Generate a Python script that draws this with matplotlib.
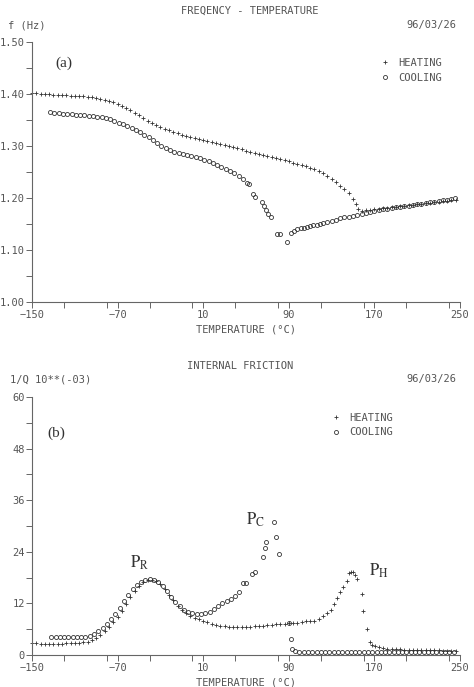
import matplotlib
matplotlib.use("Agg")
import matplotlib.pyplot as plt
from matplotlib.ticker import MultipleLocator, FormatStrFormatter

# ---- (a) frequency vs temperature ----
heat_T_a = [-150, -146, -142, -138, -134, -130, -126, -122, -118, -114, -110, -106, -102, -98, -94,
            -90, -86, -82, -78, -74, -70, -66, -62, -58, -54, -50, -46, -42, -38, -34, -30, -26,
            -22, -18, -14, -10, -6, -2, 2, 6, 10, 14, 18, 22, 26, 30, 34, 38, 42, 46, 50, 54, 58,
            62, 66, 70, 74, 78, 82, 86, 90, 94, 98, 102, 106, 110, 114, 118, 122, 126, 130, 134,
            138, 142, 146, 150, 153, 155, 158, 162, 166, 170, 174, 178, 182, 186, 190, 194, 198,
            202, 206, 210, 214, 218, 222, 226, 230, 234, 238, 242, 246]
heat_f_a = [1.401, 1.401, 1.400, 1.400, 1.400, 1.399, 1.399, 1.398, 1.398, 1.397, 1.397, 1.396,
            1.396, 1.395, 1.394, 1.393, 1.391, 1.389, 1.387, 1.384, 1.381, 1.377, 1.373, 1.369,
            1.364, 1.359, 1.354, 1.349, 1.344, 1.340, 1.336, 1.333, 1.330, 1.327, 1.325, 1.322,
            1.320, 1.318, 1.316, 1.314, 1.312, 1.310, 1.308, 1.306, 1.304, 1.302, 1.300, 1.298,
            1.296, 1.294, 1.291, 1.289, 1.287, 1.285, 1.283, 1.281, 1.279, 1.277, 1.275, 1.273,
            1.271, 1.268, 1.266, 1.263, 1.261, 1.258, 1.255, 1.252, 1.248, 1.243, 1.237, 1.231,
            1.224, 1.217, 1.209, 1.199, 1.188, 1.178, 1.175, 1.176, 1.177, 1.178, 1.179, 1.180,
            1.181, 1.182, 1.183, 1.184, 1.185, 1.186, 1.187, 1.188, 1.189, 1.190, 1.191, 1.192,
            1.193, 1.194, 1.195, 1.196, 1.197]

cool_T_a = [-133, -129, -125, -121, -117, -113, -109, -105, -101, -97, -93, -89, -85, -81, -77,
            -73, -69, -65, -61, -57, -53, -49, -45, -41, -37, -33, -29, -25, -21, -17, -13, -9,
            -5, -1, 3, 7, 11, 15, 19, 23, 27, 31, 35, 39, 43, 47, 51, 53, 57, 58, 65, 67, 69, 71,
            73, 79, 82, 88, 92, 95, 98, 101, 104, 107, 110, 113, 116, 119, 122, 126, 130, 134,
            138, 142, 146, 150, 154, 158, 162, 166, 170, 174, 178, 182, 186, 190, 194, 198, 202,
            206, 210, 214, 218, 222, 226, 230, 234, 238, 242, 245]
cool_f_a = [1.365, 1.364, 1.363, 1.362, 1.361, 1.361, 1.360, 1.359, 1.359, 1.358, 1.357, 1.356,
            1.355, 1.353, 1.351, 1.348, 1.345, 1.342, 1.338, 1.334, 1.330, 1.326, 1.322, 1.317,
            1.312, 1.306, 1.300, 1.296, 1.292, 1.288, 1.286, 1.284, 1.282, 1.280, 1.278, 1.276,
            1.274, 1.271, 1.268, 1.264, 1.260, 1.256, 1.252, 1.248, 1.242, 1.236, 1.229, 1.226,
            1.208, 1.201, 1.192, 1.184, 1.177, 1.170, 1.164, 1.131, 1.131, 1.116, 1.133, 1.137,
            1.140, 1.142, 1.143, 1.145, 1.146, 1.148, 1.149, 1.150, 1.152, 1.154, 1.156, 1.158,
            1.161, 1.163, 1.164, 1.166, 1.168, 1.170, 1.172, 1.173, 1.175, 1.176, 1.178, 1.179,
            1.180, 1.182, 1.183, 1.184, 1.185, 1.186, 1.188, 1.189, 1.190, 1.192, 1.193, 1.194,
            1.196, 1.197, 1.198, 1.200]

# ---- (b) internal friction vs temperature ----
heat_T_b = [-150, -146, -142, -138, -134, -130, -126, -122, -118, -114, -110, -106, -102, -98,
            -94, -90, -86, -82, -78, -74, -70, -66, -62, -58, -54, -50, -46, -42, -38, -34, -30,
            -26, -22, -18, -14, -10, -6, -2, 2, 6, 10, 14, 18, 22, 26, 30, 34, 38, 42, 46, 50,
            54, 58, 62, 66, 70, 74, 78, 82, 86, 90, 94, 98, 102, 106, 110, 114, 118, 122, 126,
            129, 132, 135, 138, 141, 144, 146, 148, 150, 152, 154, 158, 159, 163, 166, 168, 171,
            174, 178, 182, 186, 190, 194, 198, 202, 206, 210, 214, 218, 222, 226, 230, 234, 238,
            242, 246]
heat_q_b = [2.8, 2.7, 2.6, 2.6, 2.6, 2.6, 2.6, 2.6, 2.7, 2.7, 2.8, 2.9, 3.0, 3.1, 3.4, 3.9, 4.6,
            5.5, 6.5, 7.6, 8.9, 10.3, 11.9, 13.4, 14.8, 16.0, 16.9, 17.4, 17.5, 17.2, 16.4, 15.3,
            14.0, 12.7, 11.5, 10.4, 9.7, 9.1, 8.7, 8.4, 8.0, 7.6, 7.3, 7.0, 6.8, 6.7, 6.6, 6.5,
            6.5, 6.5, 6.6, 6.6, 6.7, 6.7, 6.8, 6.9, 7.0, 7.1, 7.2, 7.3, 7.4, 7.5, 7.5, 7.6, 7.8,
            7.9, 8.0, 8.3, 9.0, 9.8, 10.5, 11.8, 13.3, 14.6, 15.8, 17.3, 19.0, 19.3, 19.3, 18.5,
            17.6, 14.2, 10.2, 6.0, 3.0, 2.4, 2.0, 1.8, 1.6, 1.5, 1.4, 1.3, 1.3, 1.2, 1.2, 1.2,
            1.2, 1.1, 1.1, 1.1, 1.1, 1.1, 1.0, 1.0, 1.0, 1.0]

cool_T_b = [-132, -128, -124, -120, -116, -112, -108, -104, -100, -96, -92, -88, -84, -80, -76,
            -72, -68, -64, -60, -56, -52, -48, -44, -40, -36, -32, -28, -24, -20, -16, -12, -8,
            -4, 0, 4, 8, 12, 16, 20, 24, 28, 32, 36, 40, 43, 47, 50, 56, 58, 66, 68, 69, 76, 78,
            81, 90, 92, 93, 96, 100, 104, 108, 112, 116, 120, 124, 128, 132, 136, 140, 144, 148,
            152, 156, 160, 164, 168, 172, 176, 180, 184, 188, 192, 196, 200, 204, 208, 212, 216,
            220, 224, 228, 232, 236, 240, 244]
cool_q_b = [4.2, 4.2, 4.1, 4.1, 4.1, 4.1, 4.1, 4.2, 4.3, 4.5, 4.9, 5.5, 6.3, 7.2, 8.3, 9.6, 11.0,
            12.6, 14.0, 15.3, 16.3, 17.0, 17.4, 17.6, 17.4, 16.9, 16.0, 14.8, 13.5, 12.3, 11.3,
            10.5, 10.0, 9.7, 9.6, 9.6, 9.8, 10.1, 10.6, 11.3, 12.0, 12.6, 13.0, 13.7, 14.7, 16.7,
            16.8, 18.9, 19.3, 22.8, 25.0, 26.2, 31.0, 27.5, 23.5, 7.4, 3.7, 1.4, 0.9, 0.8, 0.8,
            0.8, 0.8, 0.8, 0.8, 0.8, 0.8, 0.8, 0.8, 0.8, 0.8, 0.8, 0.8, 0.8, 0.8, 0.8, 0.8, 0.8,
            0.8, 0.8, 0.8, 0.8, 0.8, 0.8, 0.8, 0.8, 0.8, 0.8, 0.8, 0.8, 0.8, 0.8, 0.8, 0.8, 0.8,
            0.8]

x_ticks = [-150, -70, 10, 90, 170, 250]

ink = '#333333'
txt = '#555555'
mono = 'DejaVu Sans Mono'
plt.rcParams['mathtext.fontset'] = 'stix'

fig = plt.figure(figsize=(4.74, 6.87), dpi=100)
W, H = 474, 687


def make_axes(top_px, bot_px):
    return fig.add_axes([32 / W, 1 - bot_px / H, 428 / W, (bot_px - top_px) / H])


def style(ax, ylim, ymajor, yminor, yfmt):
    ax.set_xlim(-150, 250)
    ax.set_ylim(*ylim)
    for s in ['top', 'right']:
        ax.spines[s].set_visible(False)
    for s in ['left', 'bottom']:
        ax.spines[s].set_color('#666666')
        ax.spines[s].set_linewidth(0.8)
    ax.set_xticks(x_ticks)
    ax.xaxis.set_minor_locator(MultipleLocator(40))
    ax.yaxis.set_major_locator(MultipleLocator(ymajor))
    ax.yaxis.set_minor_locator(MultipleLocator(yminor))
    ax.yaxis.set_major_formatter(FormatStrFormatter(yfmt))
    ax.tick_params(which='both', direction='out', colors='#666666', width=0.7,
                   labelcolor=txt, labelsize=7.5)
    ax.tick_params(axis='x', which='both', length=4, pad=2)
    ax.tick_params(axis='y', which='both', length=4, pad=1)
    for lab in ax.get_xticklabels() + ax.get_yticklabels():
        lab.set_fontfamily(mono)
    ax.set_xlabel('TEMPERATURE (°C)', fontfamily=mono, fontsize=7.5, color=txt, labelpad=3)


def draw(ax, hT, hv, cT, cv, leg_xy):
    ax.plot(hT, hv, linestyle='none', marker='+', markersize=3.0, mew=0.6, color=ink,
            label='HEATING', clip_on=False)
    ax.plot(cT, cv, linestyle='none', marker='o', markersize=2.9, mew=0.6, mfc='none',
            color=ink, label='COOLING', clip_on=False)
    leg = ax.legend(loc='upper left', bbox_to_anchor=leg_xy, frameon=False,
                    prop={'family': mono, 'size': 7.5}, handlelength=0.8,
                    handletextpad=0.9, labelspacing=0.45, borderaxespad=0)
    for t in leg.get_texts():
        t.set_color(txt)


# panel (a)
ax1 = make_axes(42, 302)
style(ax1, (1.0, 1.5), 0.1, 0.05, '%.2f')
draw(ax1, heat_T_a, heat_f_a, cool_T_a, cool_f_a, (0.805, 0.955))
ax1.text(0.055, 0.92, '(a)', transform=ax1.transAxes, fontfamily='Liberation Serif',
         fontsize=11, color=ink, va='center')

fig.text(250 / W, 1 - 11 / H, 'FREQENCY - TEMPERATURE', ha='center', va='center',
         fontfamily=mono, fontsize=7.5, color=txt)
fig.text(8 / W, 1 - 26 / H, 'f (Hz)', ha='left', va='center', fontfamily=mono,
         fontsize=7.5, color=txt)
fig.text(456 / W, 1 - 25 / H, '96/03/26', ha='right', va='center', fontfamily=mono,
         fontsize=7.5, color=txt)

# panel (b)
ax2 = make_axes(397, 655)
style(ax2, (0, 60), 12, 6, '%d')
draw(ax2, heat_T_b, heat_q_b, cool_T_b, cool_q_b, (0.69, 0.955))
ax2.text(0.035, 0.86, '(b)', transform=ax2.transAxes, fontfamily='Liberation Serif',
         fontsize=11, color=ink, va='center')
ax2.text(-58, 21.5, r'$\mathrm{P_R}$', fontsize=12, color=ink, ha='left', va='center')
ax2.text(50, 31.5, r'$\mathrm{P_C}$', fontsize=12, color=ink, ha='left', va='center')
ax2.text(165, 19.5, r'$\mathrm{P_H}$', fontsize=12, color=ink, ha='left', va='center')

fig.text(240 / W, 1 - 366 / H, 'INTERNAL FRICTION', ha='center', va='center',
         fontfamily=mono, fontsize=7.5, color=txt)
fig.text(10 / W, 1 - 379 / H, '1/Q 10**(-03)', ha='left', va='center', fontfamily=mono,
         fontsize=7.5, color=txt)
fig.text(456 / W, 1 - 379 / H, '96/03/26', ha='right', va='center', fontfamily=mono,
         fontsize=7.5, color=txt)

fig.savefig('out.png', dpi=100)
